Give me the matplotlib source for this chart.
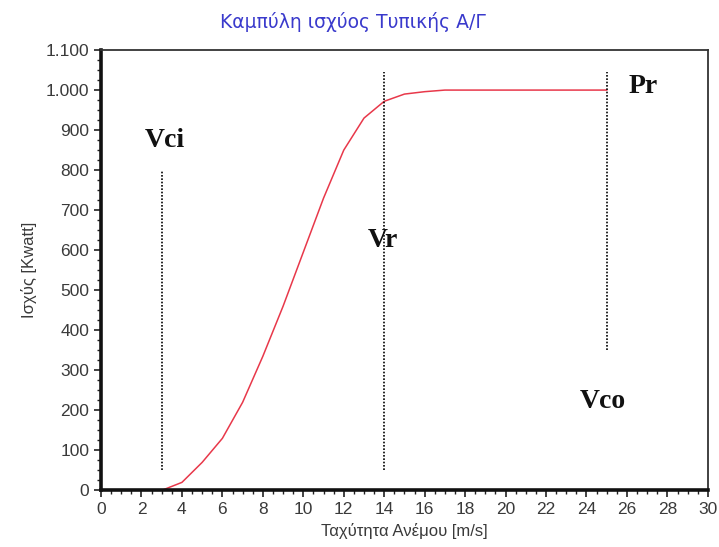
import matplotlib
matplotlib.use("Agg")
import matplotlib.pyplot as plt
from matplotlib.ticker import MultipleLocator, FuncFormatter

# Data
wind_speed = [3, 4, 5, 6, 7, 8, 9, 10, 11, 12, 13, 14, 15, 16, 17, 18, 19, 20, 21, 22, 23, 24, 25]
power_kw = [0, 20, 70, 130, 220, 335, 460, 595, 730, 850, 930, 972, 990, 996, 1000, 1000, 1000, 1000, 1000, 1000, 1000, 1000, 1000]

marker_x = [3, 14, 25]
marker_ymin = [50, 50, 350]
marker_ymax = [800, 1045, 1045]

labels = ["Vci", "Vr", "Pr", "Vco"]
label_x = [3.15, 13.95, 26.8, 24.8]
label_y = [873, 625, 1008, 222]

title = "Καμπύλη ισχύος Τυπικής Α/Γ"
xlabel = "Ταχύτητα Ανέμου [m/s]"
ylabel = "Ισχύς [Kwatt]"

plt.rcParams['font.family'] = ['Liberation Sans', 'DejaVu Sans']

fig = plt.figure(figsize=(7.19, 5.47), dpi=100)
ax = fig.add_axes([0.1405, 0.1035, 0.844, 0.805])

ax.plot(wind_speed, power_kw, color="#e8384a", lw=1.1)
for x, y0, y1 in zip(marker_x, marker_ymin, marker_ymax):
    ax.vlines(x, y0, y1, colors="black", linestyles=(0, (1, 1)), lw=1.2)

for t, x, y in zip(labels, label_x, label_y):
    ax.text(x, y, t, ha="center", va="center", fontsize=20, fontweight="bold",
            family="Liberation Serif", color="#111111")

ax.set_xlim(0, 30)
ax.set_ylim(0, 1100)
ax.xaxis.set_major_locator(MultipleLocator(2))
ax.xaxis.set_minor_locator(MultipleLocator(0.5))
ax.yaxis.set_major_locator(MultipleLocator(100))
ax.yaxis.set_minor_locator(MultipleLocator(25))
ax.yaxis.set_major_formatter(FuncFormatter(lambda v, p: f"{int(v):,}".replace(",", ".")))

ax.tick_params(which="major", direction="out", length=5, width=1.2, labelsize=12.5,
               labelcolor="#3a3a3a", color="#222222")
ax.tick_params(which="minor", direction="out", length=3, width=1.0, color="#222222")

for s in ["left", "bottom"]:
    ax.spines[s].set_linewidth(2.6)
    ax.spines[s].set_color("#111111")
for s in ["top", "right"]:
    ax.spines[s].set_linewidth(1.3)
    ax.spines[s].set_color("#333333")

ax.set_xlabel(xlabel, fontsize=12, color="#3a3a3a", labelpad=4)
ax.set_ylabel(ylabel, fontsize=12, color="#3a3a3a", labelpad=6)
fig.text(0.491, 0.96, title, ha="center", va="center", fontsize=13.5,
         family="DejaVu Sans", color="#3a3acc")

fig.savefig("out.png", dpi=100)
